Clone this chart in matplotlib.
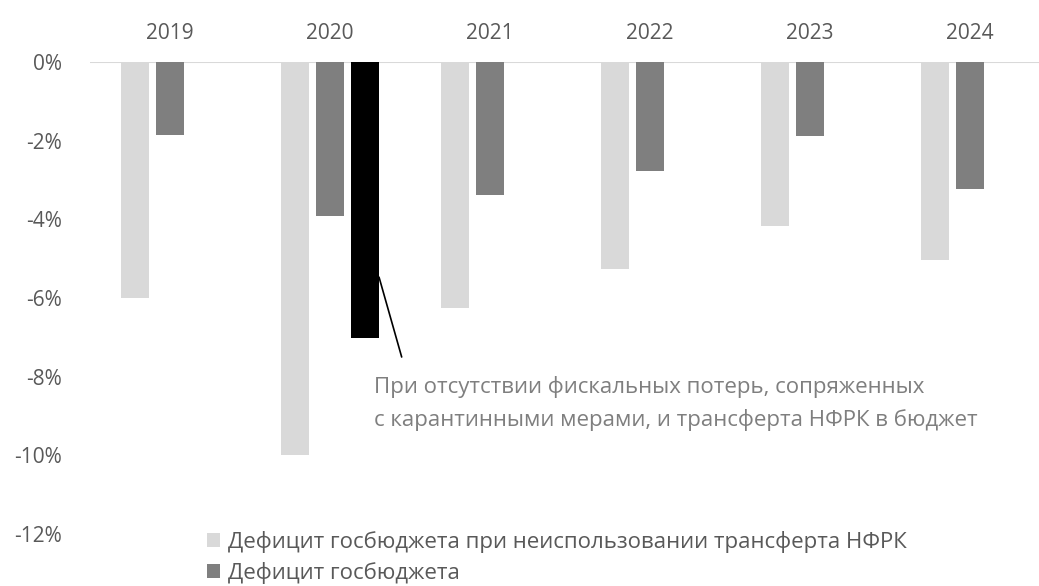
import matplotlib.pyplot as plt
import numpy as np

plt.rcParams['font.family'] = ['Open Sans', 'DejaVu Sans']

years = ['2019', '2020', '2021', '2022', '2023', '2024']
# deficit without NFRK transfer
no_transfer = [-6.0, -10.0, -6.26, -5.27, -4.16, -5.04]
# actual deficit
deficit = [-1.86, -3.92, -3.38, -2.77, -1.88, -3.23]
# 2020 without covid losses and transfer
no_covid = [np.nan, -7.02, np.nan, np.nan, np.nan, np.nan]

label_1 = 'Дефицит госбюджета при неиспользовании трансферта НФРК'
label_2 = 'Дефицит госбюджета'
note = 'При отсутствии фискальных потерь, сопряженных\nс карантинными мерами, и трансферта НФРК в бюджет'

W, H = 1039, 586
fig = plt.figure(figsize=(W / 100, H / 100), dpi=100)
# axes spans past the right edge, like the original
ax = fig.add_axes([90 / W, 1 - 534 / H, 960 / W, 472 / H])

x = np.arange(len(years))
w = 0.175
off = 0.219
ax.bar(x - off, no_transfer, w, color='#d9d9d9', label=label_1, zorder=2)
ax.bar(x, deficit, w, color='#7f7f7f', label=label_2, zorder=2)
ax.bar(x + off, no_covid, w, color='#000000', zorder=2)

ax.set_xlim(-0.5, len(years) - 0.5)
ax.set_ylim(-12, 0)
ax.axhline(0, color='#d9d9d9', lw=1.5, zorder=1)

for s in ax.spines.values():
    s.set_visible(False)

ax.xaxis.tick_top()
ax.set_xticks(x)
ax.set_xticklabels(years)
ax.tick_params(axis='x', length=0, pad=13, labelsize=15, colors='#595959')

ax.set_yticks(np.arange(-12, 1, 2))
ax.set_yticklabels([f'{v}%' for v in range(-12, 1, 2)])
ax.tick_params(axis='y', length=0, pad=20, labelsize=15, colors='#595959')

# callout for the 2020 black bar
ax.annotate('', xy=(1 + off + w / 2, -5.47), xytext=(1.448, -7.5),
            arrowprops=dict(arrowstyle='-', color='black', lw=1.2,
                            shrinkA=0, shrinkB=0))
ax.text(1.275, -8.68, note, fontsize=16, color='#7f7f7f', va='center',
        ha='left', linespacing=1.65)

leg = fig.legend(loc='upper left', bbox_to_anchor=(198 / W, 1 - 522 / H),
                 frameon=False, fontsize=16, handlelength=0.6,
                 handleheight=0.6, handletextpad=0.35, labelspacing=0.4,
                 labelcolor='#595959', borderaxespad=0)

fig.savefig('out.png', dpi=100)
